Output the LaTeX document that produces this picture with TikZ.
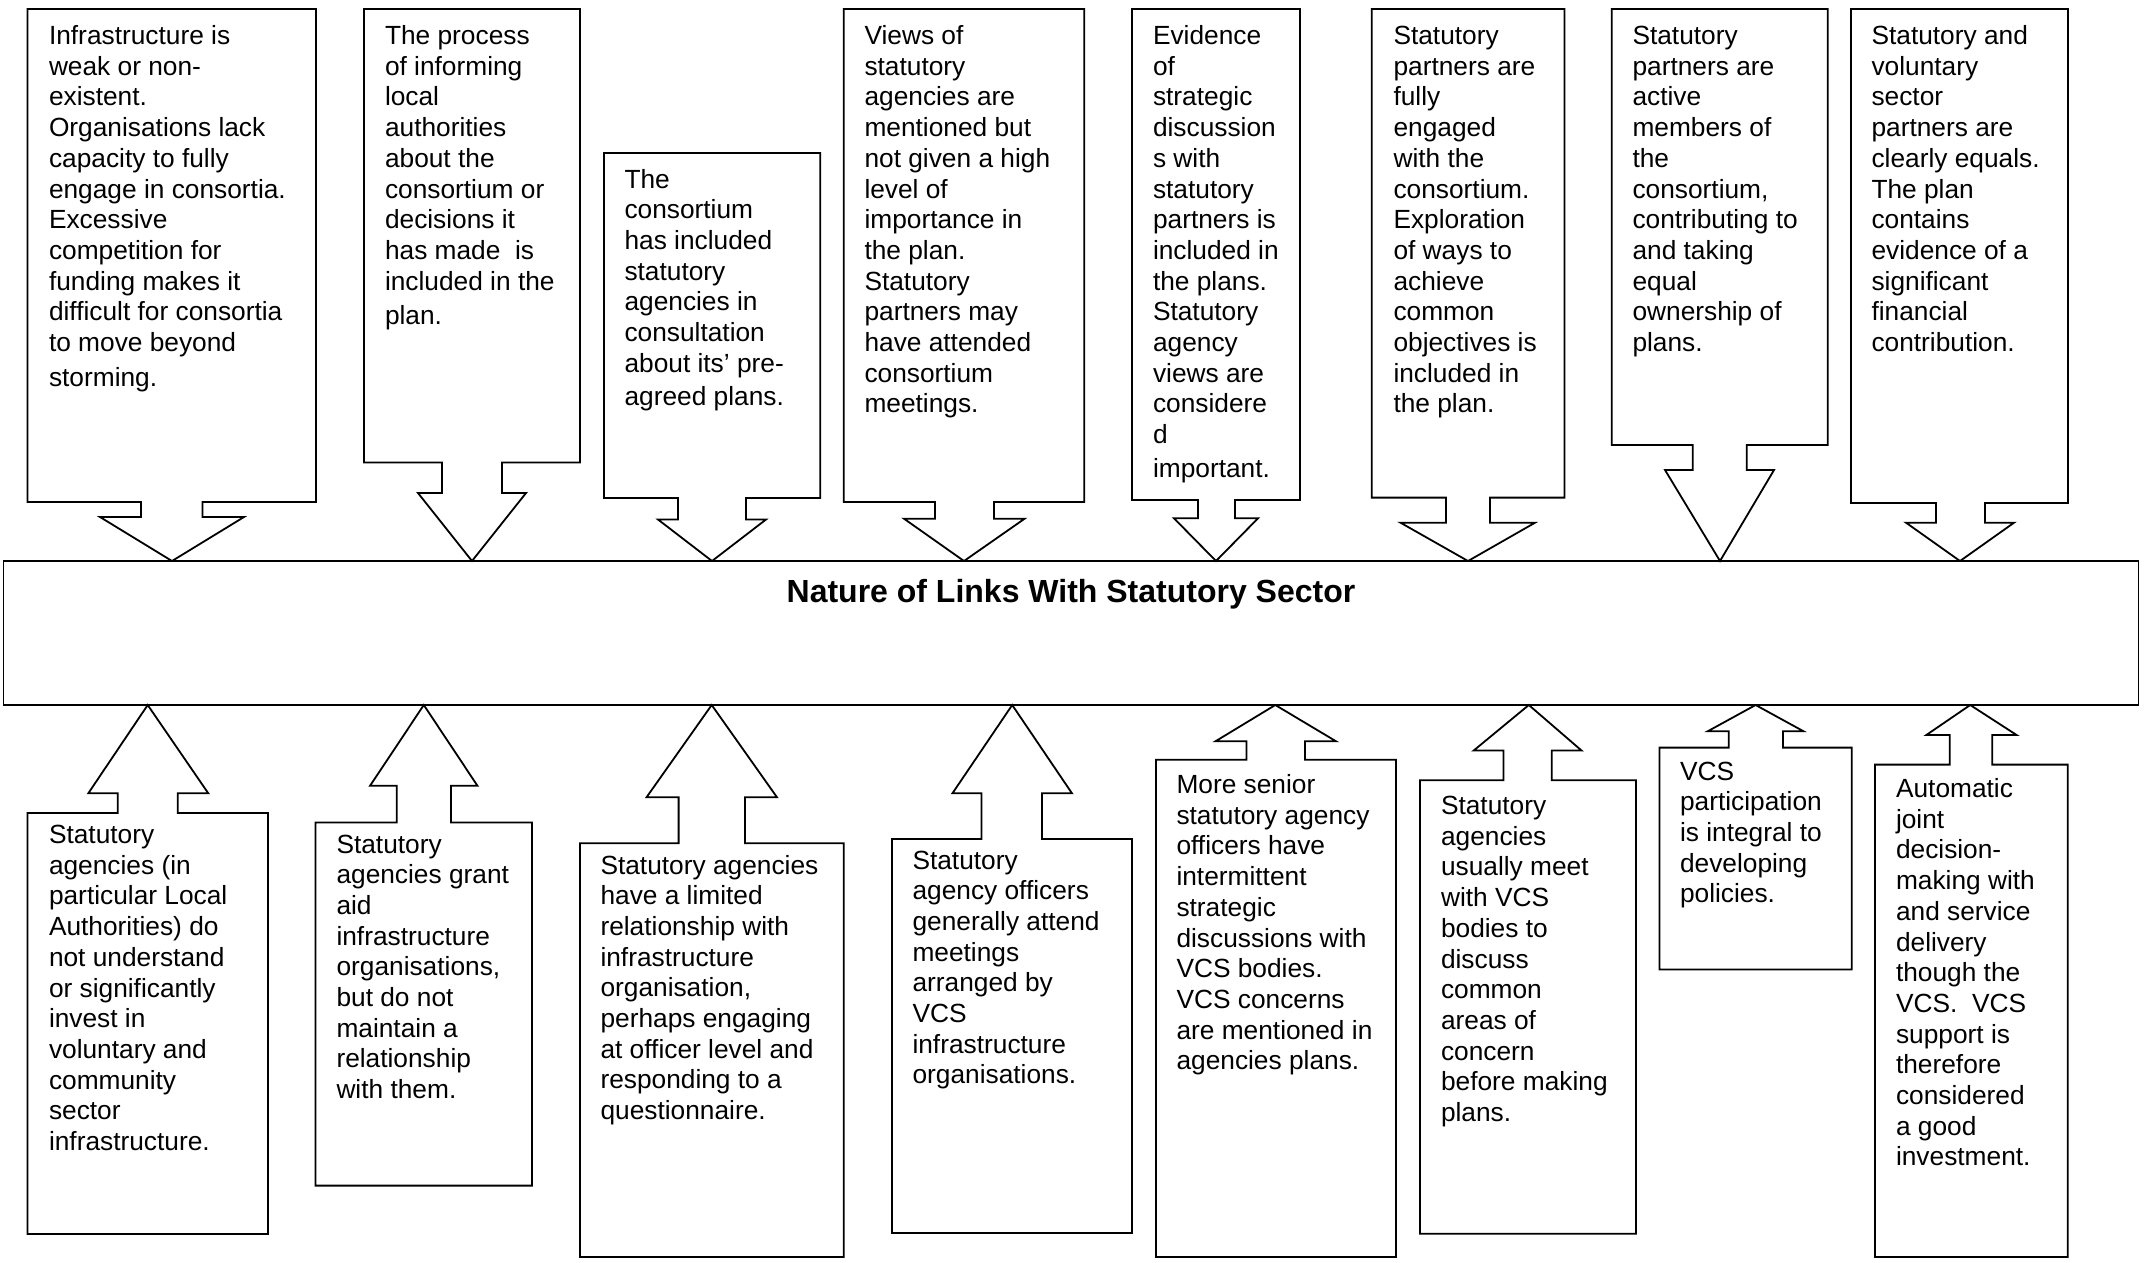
\documentclass[tikz,border=0pt]{standalone}
\usepackage{fontspec}
\setmainfont{Liberation Sans}
\begin{document}
\begin{tikzpicture}[x=1pt,y=-1pt,
  callout/.style={draw=black, line width=1.8pt, fill=white, line join=miter},
  txt/.style={anchor=north west, inner sep=0pt, outer sep=0pt, align=left,
    font=\fontsize{26.3}{30.7}\selectfont},
]
\useasboundingbox (0,0) rectangle (2146,1262);

% central bar with its heading
\node[draw=black, line width=1.8pt, minimum width=2135pt, minimum height=144pt,
      inner sep=0pt, outer sep=0pt, anchor=north west] (bar) at (3.5,561) {};
\node[anchor=base, inner sep=0pt, font=\fontsize{32}{36}\selectfont\bfseries] (title)
      at (1071,602) {Nature of Links With Statutory Sector};

% upper callouts, arrows pointing down onto the bar
\draw[callout] (27.5,9) -- (316,9) -- (316,502) -- (202.5,502) -- (202.5,517) -- (244,517)
  -- (172,0 |- bar.north) -- (100,517) -- (141,517) -- (141,502) -- (27.5,502) -- cycle;
\draw[callout] (364,9) -- (580,9) -- (580,462.5) -- (502,462.5) -- (502,493) -- (526,493)
  -- (472,0 |- bar.north) -- (418,493) -- (442,493) -- (442,462.5) -- (364,462.5) -- cycle;
\draw[callout] (604,153) -- (820.3,153) -- (820.3,498) -- (746,498) -- (746,519.5) -- (766,519.5)
  -- (712,0 |- bar.north) -- (658,519.5) -- (678,519.5) -- (678,498) -- (604,498) -- cycle;
\draw[callout] (843.7,9) -- (1084.3,9) -- (1084.3,502) -- (994,502) -- (994,518.7) -- (1024.6,518.7)
  -- (964,0 |- bar.north) -- (904,518.7) -- (935,518.7) -- (935,502) -- (843.7,502) -- cycle;
\draw[callout] (1132,9) -- (1300,9) -- (1300,500) -- (1235,500) -- (1235,518.3) -- (1258,518.3)
  -- (1216,0 |- bar.north) -- (1174,518.3) -- (1198,518.3) -- (1198,500) -- (1132,500) -- cycle;
\draw[callout] (1371.7,9) -- (1564.4,9) -- (1564.4,497.6) -- (1490,497.6) -- (1490,522.7) -- (1535,522.7)
  -- (1468,0 |- bar.north) -- (1400.5,522.7) -- (1446,522.7) -- (1446,497.6) -- (1371.7,497.6) -- cycle;
\draw[callout] (1611.7,9) -- (1827.8,9) -- (1827.8,445) -- (1746.8,445) -- (1746.8,470) -- (1774,470)
  -- (1720,0 |- bar.north) -- (1665,470) -- (1692.7,470) -- (1692.7,445) -- (1611.7,445) -- cycle;
\draw[callout] (1851,9) -- (2068,9) -- (2068,503) -- (1985,503) -- (1985,522.7) -- (2014,522.7)
  -- (1960,0 |- bar.north) -- (1906,522.7) -- (1936,522.7) -- (1936,503) -- (1851,503) -- cycle;

% lower callouts, arrows pointing up onto the bar
\draw[callout] (27.5,813) -- (117.7,813) -- (117.7,793.3) -- (88.3,793.3)
  -- (147.7,0 |- bar.south) -- (208.3,793.3) -- (177.7,793.3) -- (177.7,813) -- (268,813)
  -- (268,1234) -- (27.5,1234) -- cycle;
\draw[callout] (315.4,822.5) -- (396.7,822.5) -- (396.7,785.8) -- (370,785.8)
  -- (423.8,0 |- bar.south) -- (477.5,785.8) -- (450.9,785.8) -- (450.9,822.5) -- (532,822.5)
  -- (532,1185.6) -- (315.4,1185.6) -- cycle;
\draw[callout] (580,843.3) -- (678.6,843.3) -- (678.6,797.3) -- (646.5,797.3)
  -- (711.7,0 |- bar.south) -- (777,797.3) -- (745,797.3) -- (745,843.3) -- (843.7,843.3)
  -- (843.7,1257) -- (580,1257) -- cycle;
\draw[callout] (891.9,838.9) -- (981.4,838.9) -- (981.4,793.2) -- (952.5,793.2)
  -- (1012.2,0 |- bar.south) -- (1071.9,793.2) -- (1042,793.2) -- (1042,838.9) -- (1132,838.9)
  -- (1132,1233) -- (891.9,1233) -- cycle;
\draw[callout] (1156,759.8) -- (1246.4,759.8) -- (1246.4,741.2) -- (1215.6,741.2)
  -- (1275.3,0 |- bar.south) -- (1335.9,741.2) -- (1305,741.2) -- (1305,759.8) -- (1396,759.8)
  -- (1396,1257) -- (1156,1257) -- cycle;
\draw[callout] (1420,780.2) -- (1503.4,780.2) -- (1503.4,750.5) -- (1473.7,750.5)
  -- (1528.8,0 |- bar.south) -- (1581.5,750.5) -- (1551.7,750.5) -- (1551.7,780.2) -- (1636,780.2)
  -- (1636,1233.8) -- (1420,1233.8) -- cycle;
\draw[callout] (1659.5,747.6) -- (1728.8,747.6) -- (1728.8,731.2) -- (1707.8,731.2)
  -- (1755.6,0 |- bar.south) -- (1803.4,731.2) -- (1782.9,731.2) -- (1782.9,747.6) -- (1851.7,747.6)
  -- (1851.7,969.5) -- (1659.5,969.5) -- cycle;
\draw[callout] (1875,764.6) -- (1949.8,764.6) -- (1949.8,735) -- (1926.3,735)
  -- (1970.2,0 |- bar.south) -- (2016.6,735) -- (1992.2,735) -- (1992.2,764.6) -- (2067.8,764.6)
  -- (2067.8,1257) -- (1875,1257) -- cycle;

% texts of the upper callouts
\node[txt] (t1) at (49,24.5) {\rule{0pt}{20pt}Infrastructure is\\weak or non-\\existent.\\Organisations lack\\capacity to fully\\engage in consortia.\\Excessive\\competition for\\funding makes it\\difficult for consortia\\to move beyond\\[4pt]storming.};
\node[txt] (t2) at (385,24.5) {\rule{0pt}{20pt}The process\\of informing\\local\\authorities\\about the\\consortium or\\decisions it\\has made\ \ is\\included in the\\[4pt]plan.};
\node[txt] (t3) at (624.5,168) {\rule{0pt}{20pt}The\\consortium\\has included\\statutory\\agencies in\\consultation\\about its’ pre-\\[3pt]agreed plans.};
\node[txt] (t4) at (864.5,24.5) {\rule{0pt}{20pt}Views of\\statutory\\agencies are\\mentioned but\\not given a high\\level of\\importance in\\the plan.\\Statutory\\partners may\\have attended\\consortium\\meetings.};
\node[txt] (t5) at (1153,24.5) {\rule{0pt}{20pt}Evidence\\of\\strategic\\discussion\\s with\\statutory\\partners is\\included in\\the plans.\\Statutory\\agency\\views are\\considere\\d\\[3pt]important.};
\node[txt] (t6) at (1393.5,24.5) {\rule{0pt}{20pt}Statutory\\partners are\\fully\\engaged\\with the\\consortium.\\Exploration\\of ways to\\achieve\\common\\objectives is\\included in\\the plan.};
\node[txt] (t7) at (1632.5,24.5) {\rule{0pt}{20pt}Statutory\\partners are\\active\\members of\\the\\consortium,\\contributing to\\and taking\\equal\\ownership of\\plans.};
\node[txt] (t8) at (1871.5,24.5) {\rule{0pt}{20pt}Statutory and\\voluntary\\sector\\partners are\\clearly equals.\\The plan\\contains\\evidence of a\\significant\\financial\\contribution.};

% texts of the lower callouts
\node[txt] (b1) at (49,823.5) {\rule{0pt}{20pt}Statutory\\agencies (in\\particular Local\\Authorities) do\\not understand\\or significantly\\invest in\\voluntary and\\community\\sector\\infrastructure.};
\node[txt] (b2) at (336.5,833) {\rule{0pt}{20pt}Statutory\\agencies grant\\aid\\infrastructure\\organisations,\\but do not\\maintain a\\relationship\\with them.};
\node[txt] (b3) at (600.5,854) {\rule{0pt}{20pt}Statutory agencies\\have a limited\\relationship with\\infrastructure\\organisation,\\perhaps engaging\\at officer level and\\responding to a\\questionnaire.};
\node[txt] (b4) at (912.5,849) {\rule{0pt}{20pt}Statutory\\agency officers\\generally attend\\meetings\\arranged by\\VCS\\infrastructure\\organisations.};
\node[txt] (b5) at (1176.5,773.5) {\rule{0pt}{20pt}More senior\\statutory agency\\officers have\\intermittent\\strategic\\discussions with\\VCS bodies.\\VCS concerns\\are mentioned in\\agencies plans.};
\node[txt] (b6) at (1441,794.5) {\rule{0pt}{20pt}Statutory\\agencies\\usually meet\\with VCS\\bodies to\\discuss\\common\\areas of\\concern\\before making\\plans.};
\node[txt] (b7) at (1680,760) {\rule{0pt}{20pt}VCS\\participation\\is integral to\\developing\\policies.};
\node[txt] (b8) at (1896,777.5) {\rule{0pt}{20pt}Automatic\\joint\\decision-\\making with\\and service\\delivery\\though the\\VCS.\ \ VCS\\support is\\therefore\\considered\\a good\\investment.};
\end{tikzpicture}
\end{document}
